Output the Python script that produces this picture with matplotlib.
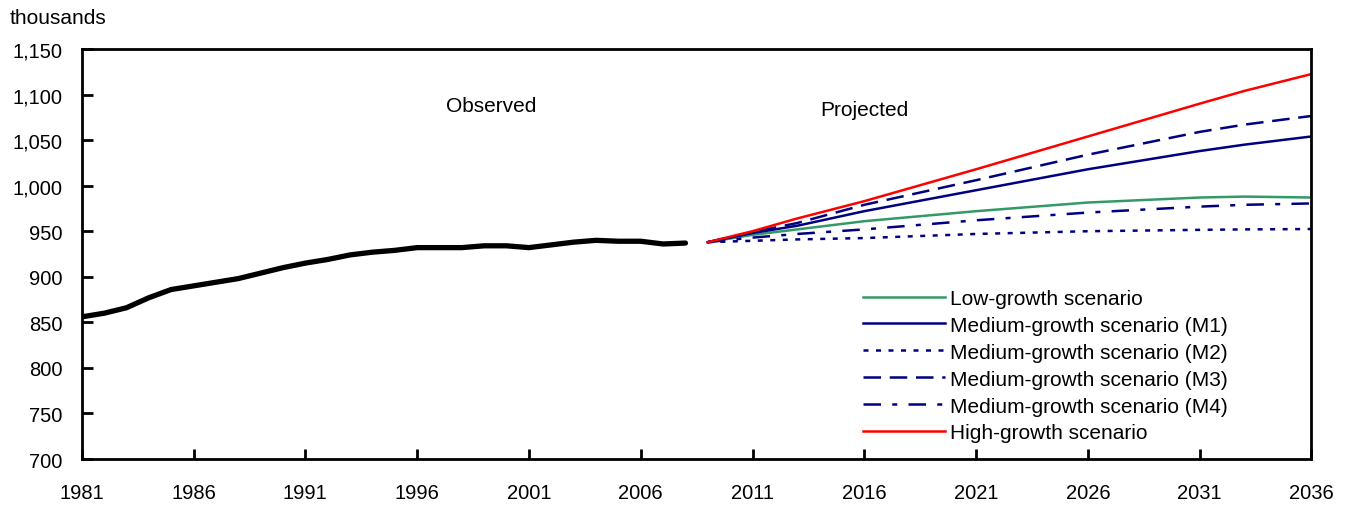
import matplotlib
matplotlib.use("Agg")
import matplotlib.pyplot as plt

plt.rcParams['font.family'] = ['Liberation Sans', 'DejaVu Sans']

# observed population (thousands)
obs_years = list(range(1981, 2009))
obs_values = [856, 860, 866, 877, 886, 890, 894, 898, 904, 910,
              915, 919, 924, 927, 929, 932, 932, 932, 934, 934,
              932, 935, 938, 940, 939, 939, 936, 937]

# projections (thousands)
proj_years = [2009, 2011, 2013, 2016, 2021, 2026, 2031, 2033, 2036]
low = [938, 946, 952, 961, 972, 981.5, 987, 988, 987]
m1 = [938, 948, 956, 972, 995, 1018, 1038, 1045, 1054]
m2 = [938, 939.5, 941, 942.5, 947, 950, 951.5, 952, 952.4]
m3 = [938, 949, 959, 979, 1006, 1034, 1059, 1067, 1076.5]
m4 = [938, 943, 947, 952, 962, 970.5, 977, 979, 980.5]
high = [938, 950, 964, 983, 1018, 1054, 1090, 1104, 1122.5]

labels = ['Low-growth scenario', 'Medium-growth scenario (M1)',
          'Medium-growth scenario (M2)', 'Medium-growth scenario (M3)',
          'Medium-growth scenario (M4)', 'High-growth scenario']

x_ticks = list(range(1981, 2037, 5))
y_ticks = list(range(700, 1151, 50))

fig = plt.figure(figsize=(13.49, 5.06), dpi=100)
ax = fig.add_axes([0.0606, 0.0909, 0.9116, 0.8103])

navy = '#000080'
lw = 1.8
ax.plot(obs_years, obs_values, color='black', lw=3.8, solid_capstyle='round',
        solid_joinstyle='round')
ax.plot(proj_years, low, color='#339966', lw=lw, label=labels[0])
ax.plot(proj_years, m1, color=navy, lw=lw, label=labels[1])
ax.plot(proj_years, m2, color=navy, lw=lw, dashes=(2, 3), label=labels[2])
ax.plot(proj_years, m3, color=navy, lw=lw, dashes=(7, 3.5), label=labels[3])
ax.plot(proj_years, m4, color=navy, lw=lw, dashes=(7, 4.5, 2, 4.5), label=labels[4])
ax.plot(proj_years, high, color='#ff0000', lw=lw, label=labels[5])

ax.set_xlim(1981, 2036)
ax.set_ylim(700, 1150)
ax.set_xticks(x_ticks)
ax.set_yticks(y_ticks)
ax.set_yticklabels([f'{v:,}' for v in y_ticks])

ax.tick_params(axis='x', direction='in', length=7, width=2, pad=17, labelsize=14.5)
ax.tick_params(axis='y', direction='in', length=8, width=2, pad=14, labelsize=14.5)
for s in ax.spines.values():
    s.set_linewidth(2)

ax.text(1999.3, 1088, 'Observed', ha='center', va='center', fontsize=15)
ax.text(2016.0, 1084, 'Projected', ha='center', va='center', fontsize=15)
fig.text(10 / 1349, 1 - 18 / 506, 'thousands', ha='left', va='center', fontsize=15)

ax.legend(loc='upper left', bbox_to_anchor=(0.635, 0.415), frameon=False,
          fontsize=15, handlelength=3.95, handletextpad=0.25, labelspacing=0.38,
          borderpad=0, borderaxespad=0)

fig.savefig('out.png', dpi=100)
